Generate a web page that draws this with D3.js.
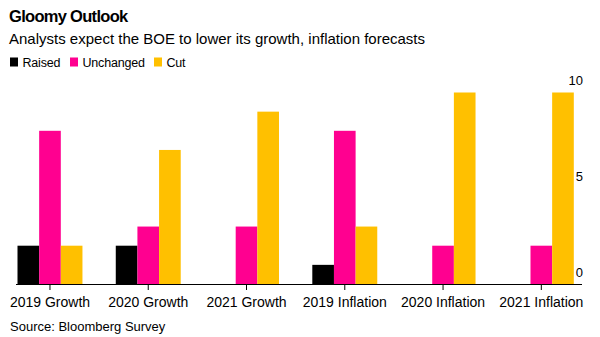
<!DOCTYPE html>
<html><head><meta charset="utf-8">
<script src="https://cdn.jsdelivr.net/npm/d3@7/dist/d3.min.js"></script>
<style>
body{margin:0;background:#fff;}
svg{display:block;font-family:"Liberation Sans",Arial,sans-serif;}
</style></head>
<body><svg id="c" width="600" height="337"></svg>
<script>
const categories = ["2019 Growth","2020 Growth","2021 Growth","2019 Inflation","2020 Inflation","2021 Inflation"];
const seriesNames = ["Raised","Unchanged","Cut"];
const raised    = [2, 2, 0, 1, 0, 0];
const unchanged = [8, 3, 3, 8, 2, 2];
const cut       = [2, 7, 9, 3, 10, 10];
const yTicks = [0, 5, 10];
const colors = ["#000000", "#ff0090", "#ffc000"];

const series = [raised, unchanged, cut];
const svg = d3.select("#c");

const x0 = d3.scaleBand().domain(categories).range([17.5, 573.8]).paddingInner(0.339).paddingOuter(0);
const x1 = d3.scaleBand().domain(seriesNames).range([0, x0.bandwidth()]);
const y = d3.scaleLinear().domain([0, 10]).range([284, 92.5]);
const color = d3.scaleOrdinal().domain(seriesNames).range(colors);

// title
svg.append("text").attr("x", 9).attr("y", 22).attr("font-size", 16.5).attr("font-weight", "bold")
  .attr("letter-spacing", -0.7).attr("fill", "#000").text("Gloomy Outlook");
svg.append("text").attr("x", 9).attr("y", 44).attr("font-size", 15).attr("fill", "#000")
  .text("Analysts expect the BOE to lower its growth, inflation forecasts");

// legend
const lg = svg.append("g");
const legendX = [10, 70, 154];
seriesNames.forEach((s, i) => {
  lg.append("rect").attr("x", legendX[i]).attr("y", 57.5).attr("width", 8).attr("height", 9).attr("fill", color(s));
  lg.append("text").attr("x", legendX[i] + 12.5).attr("y", 66.5).attr("font-size", 12.5)
    .attr("letter-spacing", -0.2).attr("fill", "#000").text(s);
});

// bars
const g = svg.append("g");
categories.forEach((c, ci) => {
  seriesNames.forEach((s, si) => {
    const v = series[si][ci];
    if (v <= 0) return;
    g.append("rect")
      .attr("x", x0(c) + x1(s))
      .attr("y", y(v))
      .attr("width", x1.bandwidth())
      .attr("height", y(0) - y(v))
      .attr("fill", color(s));
  });
});

// baseline
svg.append("line").attr("x1", 16).attr("x2", 582).attr("y1", y(0) + 0.5).attr("y2", y(0) + 0.5)
  .attr("stroke", "#000").attr("stroke-width", 1);

// x axis
const xAxis = d3.axisBottom(x0).tickSize(6).tickSizeOuter(0).tickPadding(5);
const xg = svg.append("g").attr("transform", `translate(0,${y(0)})`).call(xAxis);
xg.select(".domain").remove();
xg.selectAll(".tick line").attr("stroke", "#000");
xg.selectAll(".tick text").attr("font-size", 14).attr("fill", "#000")
  .attr("font-family", "'Liberation Sans',Arial,sans-serif").attr("dy", "0.85em");

// y axis labels
const yAxis = d3.axisRight(y).tickValues(yTicks).tickSize(0).tickPadding(0);
const yg = svg.append("g").attr("transform", "translate(583,0)").call(yAxis);
yg.select(".domain").remove();
yg.selectAll(".tick text").attr("text-anchor", "end").attr("font-size", 13).attr("fill", "#000")
  .attr("font-family", "'Liberation Sans',Arial,sans-serif").attr("dy", "-0.6em");

// source
svg.append("text").attr("x", 10).attr("y", 331).attr("font-size", 13).attr("fill", "#000")
  .text("Source: Bloomberg Survey");
</script></body></html>
